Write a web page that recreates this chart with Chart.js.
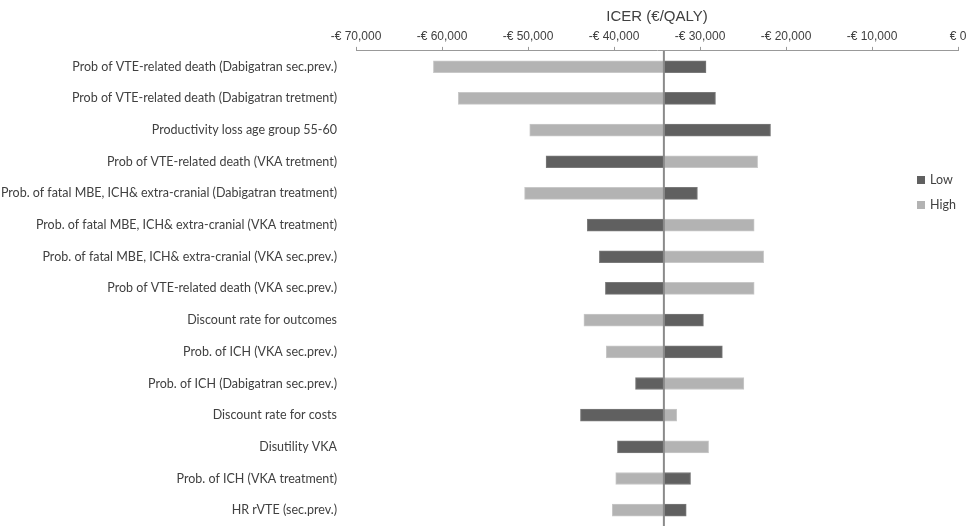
<!DOCTYPE html>
<html>
<head>
<meta charset="utf-8">
<script src="https://cdn.jsdelivr.net/npm/chart.js@4.4.0/dist/chart.umd.min.js"></script>
<style>
    body {margin: 0; background: #fff;}
    canvas {display: block;}
</style>
</head>
<body>
<canvas id="tornado" width="975" height="526"></canvas>
<script>
const labels = [
    'Prob of VTE-related death (Dabigatran sec.prev.)',
    'Prob of VTE-related death (Dabigatran tretment)',
    'Productivity loss age group 55-60',
    'Prob of VTE-related death (VKA tretment)',
    'Prob. of fatal MBE, ICH& extra-cranial (Dabigatran treatment)',
    'Prob. of fatal MBE, ICH& extra-cranial (VKA treatment)',
    'Prob. of fatal MBE, ICH& extra-cranial (VKA sec.prev.)',
    'Prob of VTE-related death (VKA sec.prev.)',
    'Discount rate for outcomes',
    'Prob. of ICH (VKA sec.prev.)',
    'Prob. of ICH (Dabigatran sec.prev.)',
    'Discount rate for costs',
    'Disutility VKA',
    'Prob. of ICH (VKA treatment)',
    'HR rVTE (sec.prev.)'
]
// base case ICER, bars start from here
const baseCase = -34200
const lowValues = [-29300, -28200, -21800, -47900, -30300, -43100, -41700, -41000, -29600, -27400, -37500, -43900, -39600, -31100, -31600]
const highValues = [-61000, -58100, -49800, -23300, -50400, -23700, -22600, -23700, -43500, -40900, -24900, -32700, -29000, -39800, -40200]
const xTicks = [-70000, -60000, -50000, -40000, -30000, -20000, -10000, 0]

const font = "Lato, 'Liberation Sans', sans-serif"
const axisFont = "'Liberation Sans', Arial, sans-serif"
const textColor = '#404040'

const fmt = (v) => {
    const s = '€ ' + Math.abs(v).toLocaleString('en-US')
    return v < 0 ? '-' + s : s
}

// vertical line at the base case + legend inside the plot
const extras = {
    id: 'extras',
    afterDatasetsDraw(chart) {
        const {ctx, chartArea, scales} = chart
        const x = scales.x.getPixelForValue(baseCase)
        ctx.save()
        ctx.strokeStyle = '#8a8a8a'
        ctx.lineWidth = 2
        ctx.beginPath()
        ctx.moveTo(x, chartArea.top)
        ctx.lineTo(x, chart.height)
        ctx.stroke()

        // legend
        ctx.font = '12.5px ' + font
        ctx.textBaseline = 'middle'
        chart.data.datasets.forEach((ds, i) => {
            const y = 180 + i * 25
            ctx.fillStyle = ds.backgroundColor
            ctx.fillRect(917, y - 4, 8, 8)
            ctx.fillStyle = textColor
            ctx.fillText(ds.label, 930, y)
        })
        ctx.restore()
    }
}

new Chart(document.getElementById('tornado'), {
    type: 'bar',
    data: {
        labels: labels,
        datasets: [
            {
                label: 'Low',
                data: lowValues.map(v => [baseCase, v]),
                backgroundColor: '#606060',
                borderColor: '#7a7a7a',
                borderWidth: 1,
                borderSkipped: false
            },
            {
                label: 'High',
                data: highValues.map(v => [baseCase, v]),
                backgroundColor: '#b3b3b3',
                borderColor: '#c8c8c8',
                borderWidth: 1,
                borderSkipped: false
            }
        ]
    },
    options: {
        indexAxis: 'y',
        responsive: false,
        animation: false,
        grouped: false,
        barThickness: 12,
        layout: {padding: {top: 7.5, right: 17, bottom: 0, left: 0}},
        plugins: {
            legend: {display: false},
            tooltip: {enabled: false}
        },
        scales: {
            x: {
                position: 'top',
                min: -70000,
                max: 0,
                afterBuildTicks: (s) => { s.ticks = xTicks.map(v => ({value: v})) },
                ticks: {
                    callback: (v) => fmt(v),
                    color: textColor,
                    font: {family: axisFont, size: 12},
                    padding: 3.5,
                    maxRotation: 0
                },
                grid: {drawOnChartArea: false, drawTicks: true, tickLength: 4, color: '#999'},
                border: {display: true, color: '#999'},
                title: {
                    display: true,
                    text: 'ICER (€/QALY)',
                    color: textColor,
                    font: {family: axisFont, size: 15},
                    padding: {top: 0, bottom: 0}
                }
            },
            y: {
                // fixed label column; labels may run off the left edge like the original
                afterFit: (s) => {
                    s.width = 356
                    s.paddingTop = 0
                    s.paddingBottom = 0
                },
                ticks: {
                    color: textColor,
                    font: {family: font, size: 12.5},
                    padding: 19,
                    autoSkip: false
                },
                grid: {display: false, drawTicks: false},
                border: {display: false}
            }
        }
    },
    plugins: [extras]
})
</script>
</body>
</html>
